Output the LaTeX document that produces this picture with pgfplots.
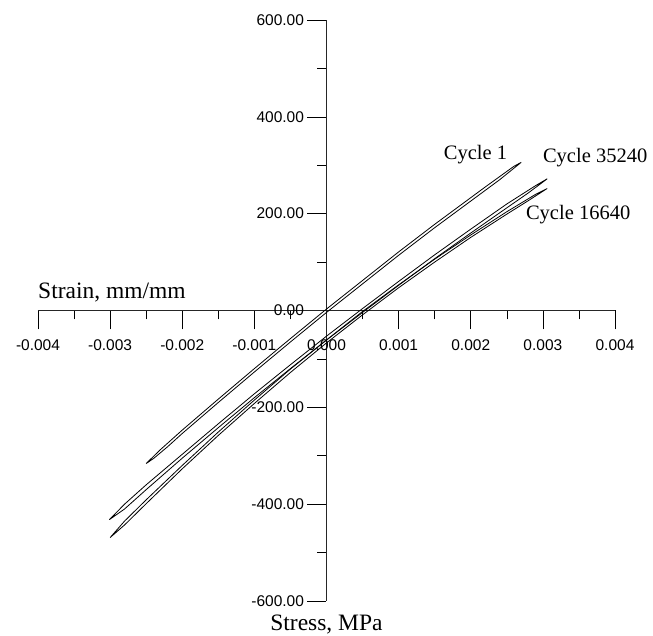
\documentclass[border=0pt]{standalone}
\usepackage{fontspec}
\setmainfont{Liberation Serif}
\newfontfamily\tickfont{Liberation Sans}
\usepackage{pgfplots}
\pgfplotsset{compat=1.18}
\begin{document}
\begin{tikzpicture}[x=1pt,y=1pt]
\useasboundingbox (0,0) rectangle (653,636);
\begin{axis}[
  at={(38pt,35pt)}, anchor=south west,
  scale only axis, width=577pt, height=581pt,
  xmin=-0.004, xmax=0.004, ymin=-600, ymax=600,
  axis lines=middle, axis line style={-, line width=0.9pt, black!85},
  clip=false,
  xtick={-0.004,-0.003,-0.002,-0.001,0,0.001,0.002,0.003,0.004},
  ytick={-600,-400,-200,0,200,400,600},
  minor tick num=1,
  tick align=outside,
  major tick length=19pt, minor tick length=9pt,
  tick style={black, line width=0.6pt},
  hide obscured x ticks=false, hide obscured y ticks=false,
  scaled x ticks=false, scaled y ticks=false,
  /pgf/number format/assume math mode=true,
  xticklabel style={font=\tickfont\fontsize{15.5}{17}\selectfont, yshift=-7pt, /pgf/number format/.cd, fixed, fixed zerofill, precision=3},
  yticklabel style={font=\tickfont\fontsize{15.5}{17}\selectfont, /pgf/number format/.cd, fixed, fixed zerofill, precision=2},
]
% Cycle 1
\addplot[black, line width=0.8pt] coordinates {
(-0.00250,-316) (-0.00240,-306) (-0.00220,-281) (-0.00200,-254) (-0.00150,-190)
(-0.00100,-127) (-0.00050,-65) (0.00000,-4) (0.00050,55) (0.00100,114)
(0.00150,171) (0.00200,226) (0.00240,270) (0.00270,306)
(0.00260,298) (0.00220,255) (0.00200,233) (0.00150,178) (0.00100,121)
(0.00050,62) (0.00000,3) (-0.00050,-58) (-0.00100,-120) (-0.00150,-183)
(-0.00200,-247) (-0.00230,-287) (-0.00250,-316)};
% Cycle 35240
\addplot[black, line width=0.8pt] coordinates {
(-0.00301,-432) (-0.00280,-410) (-0.00250,-370) (-0.00200,-305) (-0.00150,-242)
(-0.00100,-180) (-0.00050,-120) (0.00000,-61) (0.00050,-4) (0.00100,52)
(0.00150,107) (0.00200,160) (0.00250,212) (0.00280,243) (0.00306,272)
(0.00290,258) (0.00250,220) (0.00200,168) (0.00150,115) (0.00100,60)
(0.00050,4) (0.00000,-53) (-0.00050,-112) (-0.00100,-172) (-0.00150,-234)
(-0.00200,-297) (-0.00250,-360) (-0.00280,-400) (-0.00301,-432)};
% Cycle 16640
\addplot[black, line width=0.8pt] coordinates {
(-0.00300,-469) (-0.00280,-443) (-0.00250,-399) (-0.00200,-327) (-0.00150,-258)
(-0.00100,-192) (-0.00050,-128) (0.00000,-67) (0.00050,-9) (0.00100,47)
(0.00150,100) (0.00200,151) (0.00250,199) (0.00280,227) (0.00306,252)
(0.00290,240) (0.00250,204) (0.00200,156) (0.00150,106) (0.00100,53)
(0.00050,-2) (0.00000,-61) (-0.00050,-121) (-0.00100,-185) (-0.00150,-251)
(-0.00200,-320) (-0.00250,-391) (-0.00280,-435) (-0.00300,-469)};
\node[anchor=base west, inner sep=0, font=\fontsize{23.5}{28}\selectfont] at (axis cs:-0.004,0) [yshift=12pt] {Strain, mm/mm};
\node[anchor=base, inner sep=0, font=\fontsize{23.5}{28}\selectfont] at (axis cs:0,-600) [yshift=-30pt] {Stress, MPa};
\node[anchor=west, inner sep=0, font=\fontsize{20.5}{24}\selectfont] at (axis cs:0.001625,322) {Cycle 1};
\node[anchor=west, inner sep=0, font=\fontsize{20.5}{24}\selectfont] at (axis cs:0.00300,316) {Cycle 35240};
\node[anchor=west, inner sep=0, font=\fontsize{20.5}{24}\selectfont] at (axis cs:0.002764,198) {Cycle 16640};
\end{axis}
\end{tikzpicture}
\end{document}
